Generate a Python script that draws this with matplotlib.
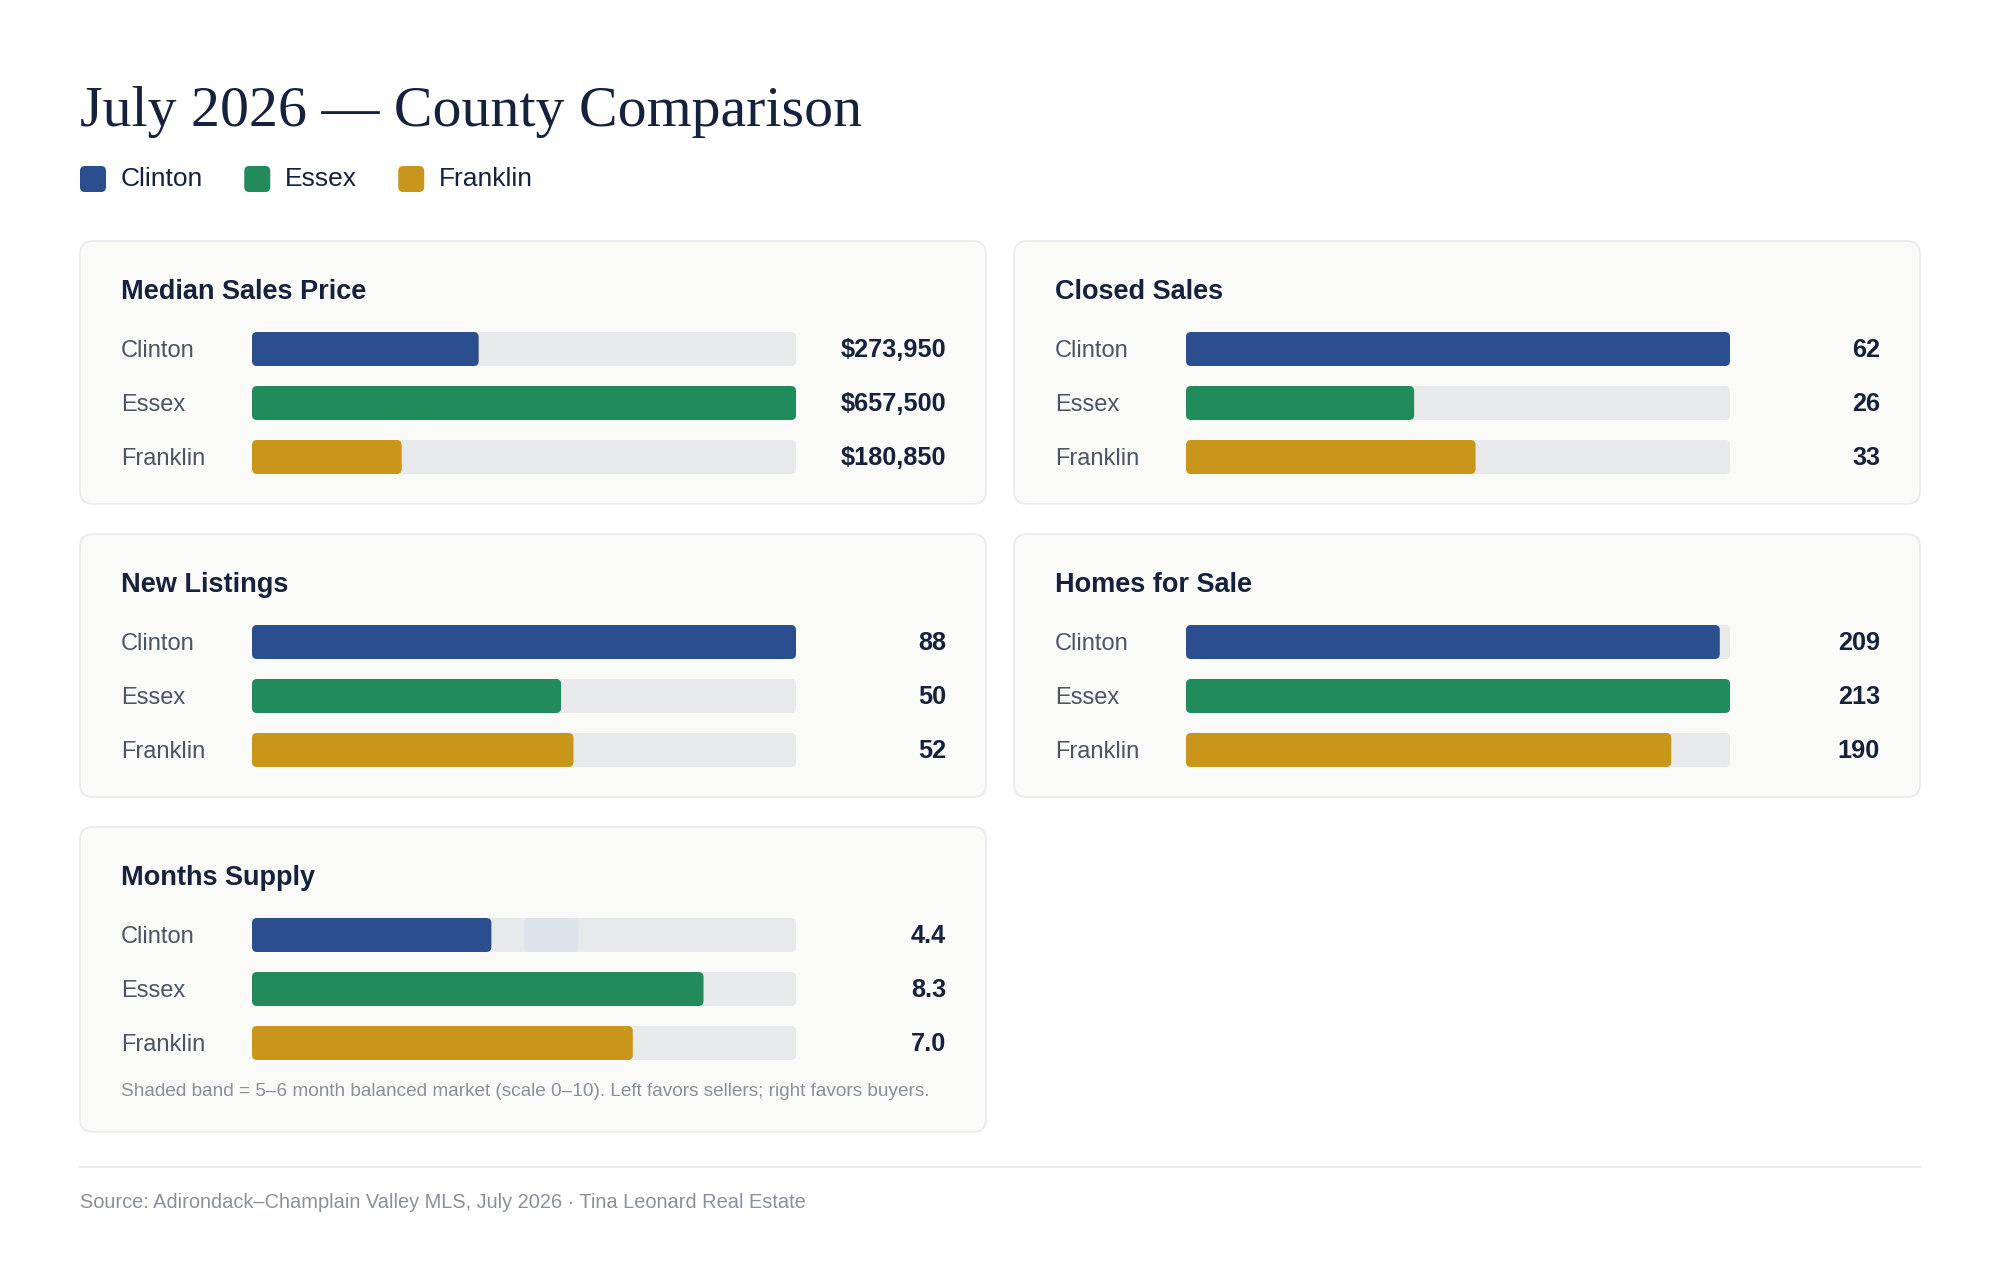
import matplotlib
matplotlib.use("Agg")
import matplotlib.pyplot as plt
from matplotlib.patches import FancyBboxPatch

# data
counties = ["Clinton", "Essex", "Franklin"]
county_colors = ["#2b4f8e", "#218b5c", "#c9961b"]

metrics = ["Median Sales Price", "Closed Sales", "New Listings", "Homes for Sale", "Months Supply"]
median_price = [273950, 657500, 180850]
closed_sales = [62, 26, 33]
new_listings = [88, 50, 52]
homes_for_sale = [209, 213, 190]
months_supply = [4.4, 8.3, 7.0]

price_labels = ["$273,950", "$657,500", "$180,850"]
closed_labels = ["62", "26", "33"]
listing_labels = ["88", "50", "52"]
homes_labels = ["209", "213", "190"]
supply_labels = ["4.4", "8.3", "7.0"]

supply_scale = 10
balanced_band = (5, 6)

title = "July 2026 \u2014 County Comparison"
footnote = "Shaded band = 5\u20136 month balanced market (scale 0\u201310). Left favors sellers; right favors buyers."
source = "Source: Adirondack\u2013Champlain Valley MLS, July 2026 \u00b7 Tina Leonard Real Estate"

W, H = 2000, 1273
SANS = ["Liberation Sans", "DejaVu Sans"]
SERIF = ["Liberation Serif", "DejaVu Serif"]
NAVY = "#16213e"
LABEL = "#4b5563"
MUTED = "#8a9099"
TRACK = "#e8e9eb"
BAND = "#dde3eb"
CARD_BG = "#fafaf9"
CARD_EDGE = "#e9eaed"

fig = plt.figure(figsize=(W / 100, H / 100), dpi=100)
fig.patch.set_facecolor("white")
bg = fig.add_axes([0, 0, 1, 1])
bg.set_xlim(0, W)
bg.set_ylim(H, 0)
bg.axis("off")

# title + legend
bg.text(80, 126, title, fontsize=41.7, family=SERIF, color=NAVY, va="baseline", ha="left")

fig.canvas.draw()
rend = fig.canvas.get_renderer()
lx = 80
for name, col in zip(counties, county_colors):
    bg.add_patch(FancyBboxPatch((lx, 166), 26, 26, boxstyle="round,pad=0,rounding_size=5",
                                fc=col, ec="none"))
    t = bg.text(lx + 41, 179, name, fontsize=19, family=SANS, color=NAVY, va="center", ha="left")
    bb = t.get_window_extent(rend)
    lx = lx + 41 + bb.width + 41


def card(x0, y0, w, h, name, values, labels, vmax, band=None, note=None):
    bg.add_patch(FancyBboxPatch((x0, y0), w, h, boxstyle="round,pad=0,rounding_size=13",
                                fc=CARD_BG, ec=CARD_EDGE, lw=1.2))
    bg.text(x0 + 41, y0 + 58, name, fontsize=19.5, family=SANS, weight="bold",
            color=NAVY, va="baseline")
    row0 = y0 + 108
    step = 54
    for i, (c, lab) in enumerate(zip(counties, labels)):
        yc = row0 + i * step
        bg.text(x0 + 41, yc + 8, c, fontsize=17, family=SANS, color=LABEL, va="baseline")
        bg.text(x0 + w - 40, yc + 8, lab, fontsize=18.2, family=SANS, weight="bold",
                color=NAVY, va="baseline", ha="right")

    # bar area
    bx0, bw = x0 + 172, 544
    top = row0 - step / 2
    ax = fig.add_axes([bx0 / W, 1 - (top + 3 * step) / H, bw / W, 3 * step / H])
    ax.set_xlim(0, vmax)
    ax.set_ylim(2.5, -0.5)
    ax.axis("off")
    ax.patch.set_alpha(0)
    xpp = vmax / bw
    ypp = 1.0 / step
    asp = ypp / xpp
    r = 5 * xpp
    bh = 34 / step
    for i, (v, col) in enumerate(zip(values, county_colors)):
        ax.add_patch(FancyBboxPatch((0, i - bh / 2), vmax, bh,
                                    boxstyle=f"round,pad=0,rounding_size={r}",
                                    mutation_aspect=asp, fc=TRACK, ec="none", zorder=1))
        if band is not None:
            ax.add_patch(FancyBboxPatch((band[0], i - bh / 2), band[1] - band[0], bh,
                                        boxstyle=f"round,pad=0,rounding_size={r}",
                                        mutation_aspect=asp, fc=BAND, ec="none", zorder=2))
        ax.add_patch(FancyBboxPatch((0, i - bh / 2), v, bh,
                                    boxstyle=f"round,pad=0,rounding_size={r}",
                                    mutation_aspect=asp, fc=col, ec="none", zorder=3))
    if note:
        bg.text(x0 + 41, y0 + 265, note, fontsize=13.7, family=SANS, color=MUTED, va="center")


LX, RX, CW = 80, 1014, 906
card(LX, 241, CW, 263, metrics[0], median_price, price_labels, max(median_price))
card(RX, 241, CW, 263, metrics[1], closed_sales, closed_labels, max(closed_sales))
card(LX, 534, CW, 263, metrics[2], new_listings, listing_labels, max(new_listings))
card(RX, 534, CW, 263, metrics[3], homes_for_sale, homes_labels, max(homes_for_sale))
card(LX, 827, CW, 305, metrics[4], months_supply, supply_labels, supply_scale,
     band=balanced_band, note=footnote)

bg.plot([80, 1920], [1167, 1167], color="#e8e9ec", lw=1.3)
bg.text(80, 1202, source, fontsize=14.4, family=SANS, color=MUTED, va="center")

fig.savefig("out.png", dpi=100, facecolor="white")
